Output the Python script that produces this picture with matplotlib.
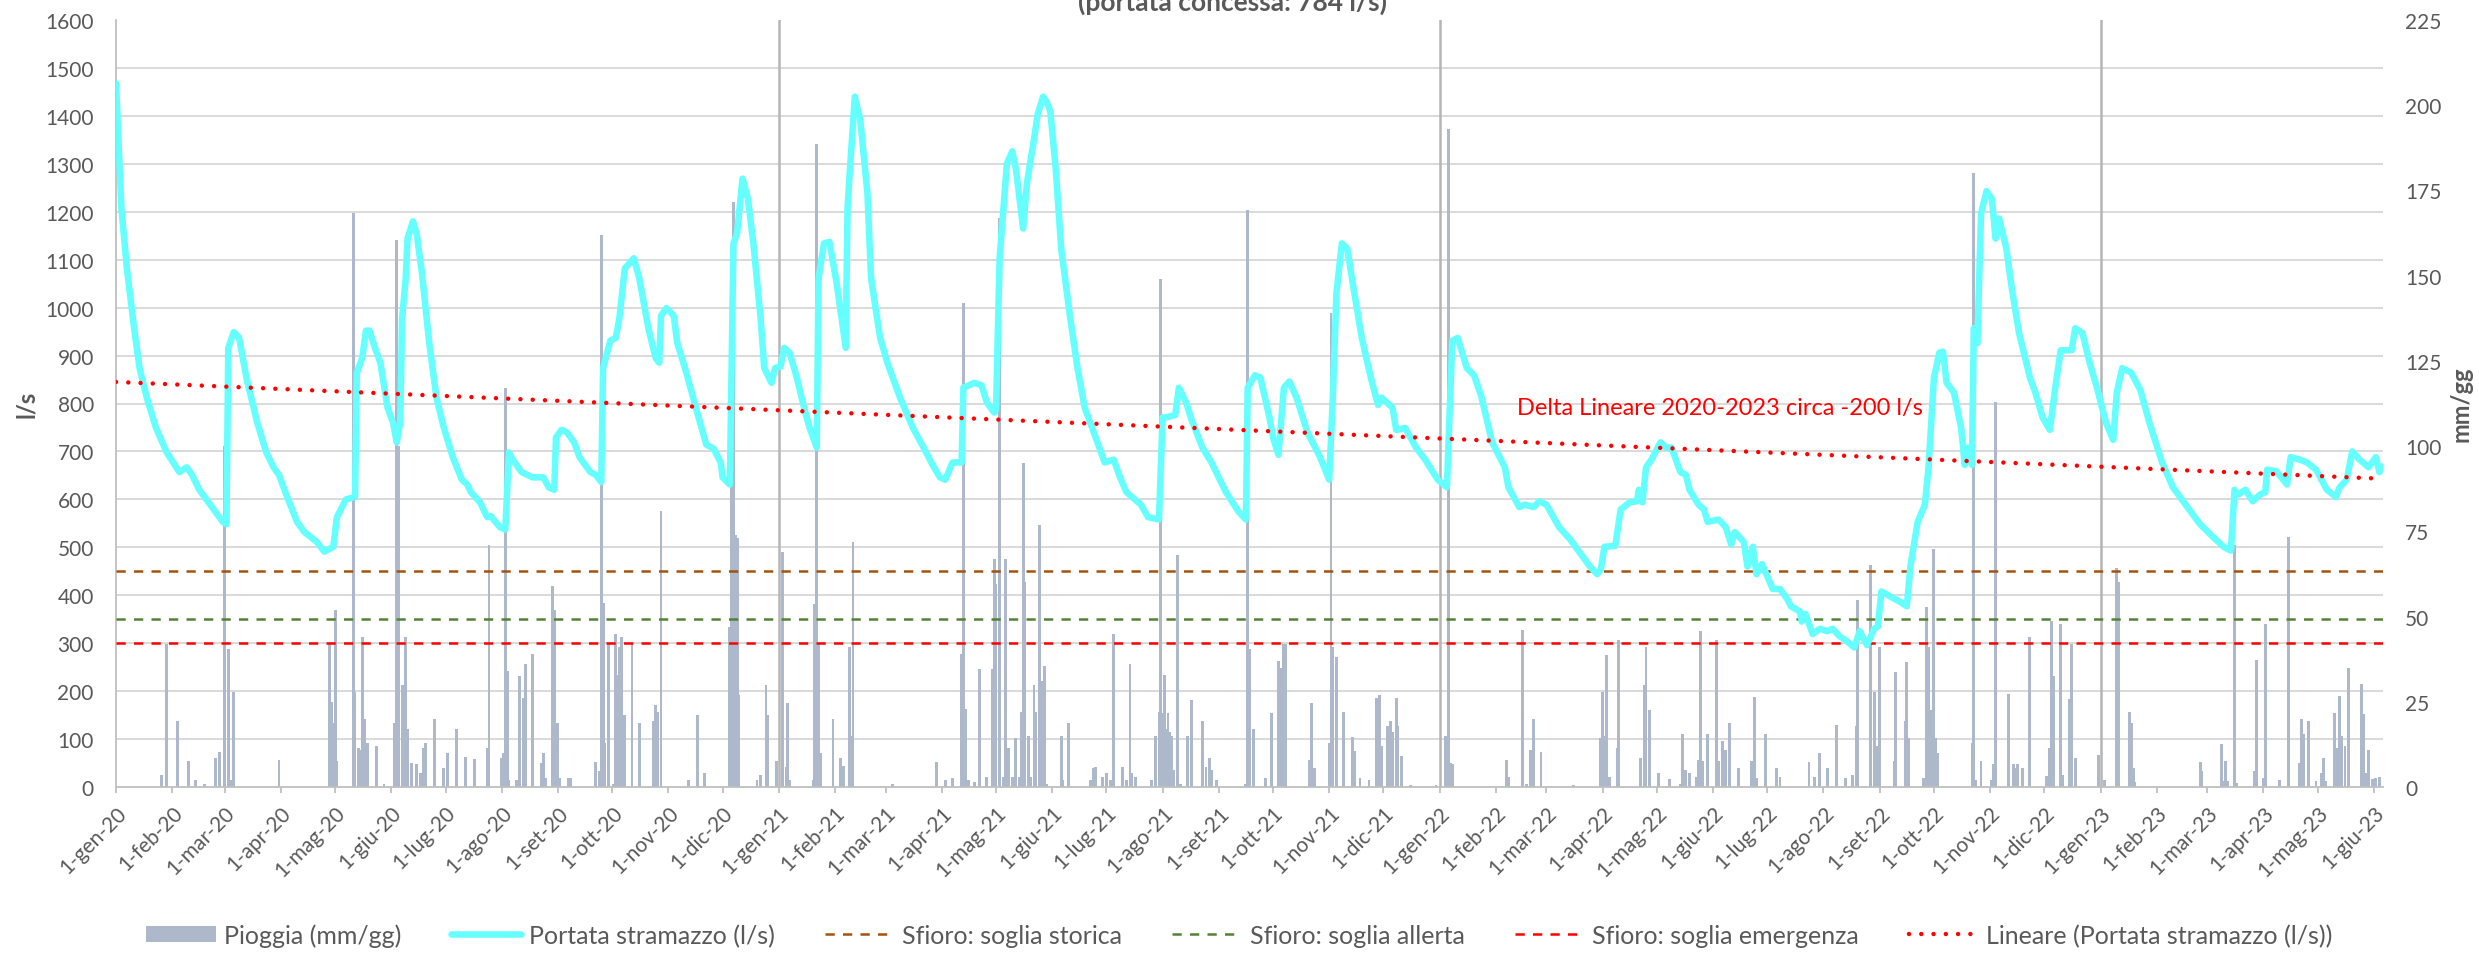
import numpy as np
import matplotlib
matplotlib.use('Agg')
import matplotlib.pyplot as plt
import matplotlib.dates as mdates
from matplotlib.patches import Patch
from matplotlib.lines import Line2D
from matplotlib.ticker import FuncFormatter, MultipleLocator, FixedLocator

plt.rcParams['font.family'] = ['Lato', 'DejaVu Sans']

# ---------------- DATA ----------------
data_inizio = '2020-01-01'
giorni_totali = 1252

# Portata stramazzo (l/s): day offset from 1-gen-20 and value
portata_giorno = [0, 3, 6, 10, 13, 17, 22, 28, 35, 39, 42, 46, 52, 59, 61, 62, 65, 68, 72, 78,
                  83, 87, 90, 94, 100, 104, 111, 115, 120, 122, 127, 132, 133, 136, 138, 140, 143, 146, 150, 153,
                  155, 157, 158, 160, 161, 164, 166, 169, 173, 177, 181, 186, 191, 194, 196, 201, 205, 207, 212, 215,
                  217, 219, 224, 230, 236, 239, 242, 243, 246, 249, 253, 256, 262, 265, 268, 269, 273, 276, 278, 281,
                  286, 289, 294, 298, 300, 301, 304, 308, 310, 315, 321, 326, 330, 334, 335, 339, 341, 343, 346, 349,
                  352, 356, 358, 362, 364, 367, 369, 372, 376, 380, 383, 387, 388, 391, 394, 398, 403, 404, 405, 408,
                  411, 415, 417, 422, 426, 430, 433, 440, 446, 451, 455, 458, 462, 467, 468, 474, 478, 481, 485, 486,
                  488, 492, 495, 497, 501, 503, 507, 509, 512, 514, 516, 519, 522, 527, 531, 535, 540, 546, 551, 554,
                  558, 566, 570, 576, 578, 580, 585, 587, 591, 594, 600, 605, 613, 620, 624, 625, 629, 632, 637, 639,
                  642, 645, 648, 652, 658, 665, 670, 672, 674, 677, 680, 683, 688, 693, 697, 699, 705, 707, 712, 718,
                  723, 730, 735, 738, 741, 746, 750, 754, 760, 767, 769, 775, 778, 783, 786, 790, 797, 803, 808, 814,
                  818, 820, 822, 828, 831, 836, 840, 841, 843, 845, 848, 853, 856, 859, 864, 867, 869, 874, 877, 879,
                  885, 889, 892, 894, 899, 901, 904, 906, 909, 915, 919, 923, 925, 930, 931, 933, 937, 941, 945, 948,
                  952, 956, 960, 963, 967, 971, 973, 975, 980, 985, 989, 991, 995, 999, 1001, 1004, 1007, 1009, 1011, 1015,
                  1019, 1021, 1023, 1025, 1026, 1028, 1030, 1033, 1036, 1038, 1040, 1044, 1047, 1051, 1057, 1060, 1064, 1068, 1071, 1074,
                  1080, 1082, 1086, 1090, 1094, 1099, 1103, 1105, 1108, 1113, 1118, 1123, 1130, 1136, 1144, 1151, 1158, 1164, 1168, 1170,
                  1172, 1176, 1180, 1184, 1187, 1188, 1193, 1199, 1201, 1206, 1210, 1215, 1221, 1226, 1228, 1232, 1235, 1239, 1244, 1248,
                  1250, 1252]
portata_ls = [1468, 1206, 1082, 957, 874, 812, 750, 698, 657, 667, 651, 620, 589, 553, 548, 916, 949, 937, 854, 760,
              698, 667, 651, 610, 553, 532, 511, 491, 501, 563, 600, 605, 864, 895, 952, 952, 916, 885, 791, 760,
              719, 760, 978, 1061, 1144, 1180, 1155, 1071, 926, 812, 750, 688, 641, 631, 615, 594, 563, 565, 542, 537,
              698, 683, 657, 646, 646, 625, 620, 729, 745, 740, 719, 688, 657, 651, 636, 874, 931, 937, 978, 1082,
              1103, 1061, 957, 895, 885, 983, 999, 983, 926, 864, 781, 714, 706, 677, 646, 631, 1134, 1155, 1269, 1227,
              1134, 978, 874, 843, 874, 877, 916, 906, 854, 791, 750, 708, 1061, 1134, 1137, 1051, 916, 1206, 1269, 1440,
              1393, 1238, 1061, 937, 885, 843, 812, 750, 708, 672, 646, 641, 677, 677, 833, 843, 838, 802, 781, 786,
              1103, 1300, 1326, 1289, 1165, 1258, 1352, 1403, 1440, 1429, 1409, 1289, 1123, 978, 874, 791, 740, 677, 683, 651,
              615, 589, 563, 558, 771, 771, 776, 833, 802, 766, 708, 677, 615, 574, 558, 833, 859, 854, 771, 729,
              693, 833, 846, 812, 740, 688, 641, 812, 1030, 1134, 1123, 1051, 937, 854, 797, 812, 791, 745, 749, 708,
              683, 641, 625, 931, 937, 874, 859, 815, 719, 667, 625, 584, 589, 584, 596, 589, 542, 517, 491, 460,
              444, 454, 501, 503, 579, 594, 596, 620, 594, 667, 683, 719, 708, 708, 657, 651, 620, 589, 579, 553,
              558, 542, 506, 532, 511, 460, 501, 444, 465, 413, 413, 392, 377, 366, 345, 361, 319, 330, 325, 330,
              314, 304, 291, 325, 296, 330, 335, 408, 397, 387, 377, 460, 553, 589, 667, 854, 906, 908, 843, 823,
              750, 672, 708, 672, 957, 926, 1196, 1243, 1227, 1144, 1186, 1123, 1040, 947, 854, 823, 771, 745, 833, 911,
              911, 957, 947, 885, 833, 760, 724, 823, 874, 864, 828, 760, 677, 625, 584, 548, 522, 501, 493, 620,
              610, 620, 596, 610, 615, 662, 659, 631, 688, 683, 677, 662, 620, 605, 625, 641, 700, 683, 667, 688,
              657, 669]

# Pioggia (mm/gg): day offset from 1-gen-20 and value
pioggia_giorno = [25, 28, 34, 40, 44, 49, 55, 57, 60, 62, 64, 65, 90, 118, 119, 120, 121, 122, 131, 132,
                  134, 135, 136, 137, 138, 139, 144, 148, 154, 155, 156, 158, 159, 160, 161, 163, 166, 168, 170, 171,
                  176, 181, 183, 188, 193, 198, 205, 206, 213, 214, 215, 216, 217, 221, 223, 225, 226, 230, 235, 236,
                  237, 241, 242, 244, 245, 250, 251, 265, 267, 268, 269, 270, 272, 275, 276, 277, 278, 279, 281, 285,
                  289, 297, 298, 299, 301, 316, 321, 325, 339, 340, 341, 342, 343, 344, 354, 356, 359, 360, 365, 368,
                  370, 371, 372, 385, 386, 387, 388, 389, 396, 400, 402, 405, 406, 407, 429, 453, 458, 462, 467, 468,
                  469, 471, 474, 477, 481, 484, 485, 486, 488, 490, 491, 493, 495, 497, 499, 500, 501, 502, 504, 505,
                  507, 508, 510, 511, 513, 514, 522, 523, 526, 538, 540, 541, 545, 547, 549, 551, 556, 558, 560, 561,
                  563, 572, 574, 576, 577, 578, 579, 580, 581, 582, 583, 584, 586, 588, 592, 594, 600, 602, 604, 605,
                  608, 624, 625, 626, 628, 635, 638, 642, 643, 645, 646, 659, 660, 662, 670, 671, 672, 674, 678, 683,
                  684, 687, 692, 696, 697, 698, 699, 702, 704, 705, 707, 708, 710, 715, 729, 734, 736, 737, 738, 768,
                  769, 777, 779, 781, 783, 787, 805, 820, 821, 822, 823, 825, 829, 830, 842, 844, 845, 847, 852, 858,
                  864, 865, 867, 869, 873, 874, 875, 876, 879, 884, 885, 887, 889, 891, 896, 903, 905, 906, 911, 917,
                  919, 935, 938, 941, 945, 950, 955, 959, 961, 962, 969, 971, 973, 974, 982, 983, 988, 989, 990, 998,
                  1000, 1001, 1002, 1004, 1005, 1006, 1025, 1026, 1027, 1030, 1036, 1037, 1038, 1045, 1048, 1049, 1050, 1053, 1057, 1066,
                  1068, 1069, 1070, 1074, 1075, 1079, 1080, 1082, 1095, 1098, 1105, 1106, 1112, 1113, 1114, 1115, 1151, 1152, 1163, 1164,
                  1165, 1166, 1170, 1171, 1181, 1182, 1186, 1187, 1195, 1200, 1206, 1207, 1208, 1211, 1215, 1218, 1219, 1220, 1225, 1227,
                  1228, 1229, 1231, 1233, 1240, 1241, 1243, 1244, 1246, 1248, 1250]
pioggia_mm = [3.6, 42, 19.4, 7.7, 2.2, 1, 8.5, 10.4, 100, 40.6, 2, 28, 8, 42, 25, 18.7, 52, 7.7, 168.5, 28,
              11.4, 11, 44, 20, 6, 12.8, 12, 1, 18.7, 160.5, 100, 30, 18.7, 44, 17, 7, 6.7, 4, 11.4, 12.8,
              20, 5.5, 10, 17, 8.8, 8.2, 11.4, 71, 8.5, 10, 117, 34, 2, 2, 32.5, 26, 36, 39, 7, 10,
              2.5, 59, 52, 18.7, 2.5, 2.5, 2.6, 7.3, 4.7, 162, 54, 12.8, 42, 1, 45, 33, 41, 44, 21, 42,
              18.7, 19.4, 24, 22, 81, 2, 21, 4, 47, 88, 171.6, 74, 73, 27, 2, 3.4, 30, 21, 7.7, 69,
              6, 24.5, 2, 2, 53.7, 188.6, 42, 10, 20, 8.5, 6.3, 41, 15, 72, 1, 7.3, 2, 2.5, 39, 142,
              23, 2, 1.5, 34.7, 3, 34.7, 67, 59.5, 167, 3, 67, 11.4, 3, 14.3, 3, 22, 95, 60, 15, 3,
              30, 22, 77, 31, 35.5, 1, 15, 2, 18.7, 2, 5.5, 6, 3, 4, 2, 45, 6, 2, 36, 4,
              3, 2, 15, 22, 149, 21.6, 33, 17, 21.6, 16, 15, 5, 68, 1, 15, 25.5, 19.4, 6, 8.5, 5,
              2, 1, 169.4, 40.6, 17, 2.5, 21.6, 37, 35, 42, 42, 8, 24.5, 5.5, 12.8, 139, 41, 38, 22, 14.7,
              10.7, 2.5, 2, 26, 24, 27, 12, 18, 19.4, 16, 26, 18, 9, 0.5, 0.5, 15, 193, 7, 6.7, 8,
              3, 46, 1, 11, 20, 10.4, 0.5, 14.3, 28, 15, 38.7, 3, 11.4, 43, 8.5, 30, 41, 22.6, 4, 2.3,
              1, 15.5, 5, 4, 3, 8, 45.7, 7.7, 15.5, 43, 7.7, 13.6, 11, 18.7, 5.5, 7.7, 26.4, 2.6, 15.5, 5.5,
              3, 7.3, 3, 10, 5.5, 18.2, 2.6, 3.6, 18, 55, 65, 28, 12, 41, 7.7, 33.6, 19.4, 36.6, 14.3, 2.6,
              52.7, 41, 22.6, 69.7, 14.3, 10, 12.8, 180, 2, 7.7, 2, 6.7, 112.8, 27.4, 6.7, 5.5, 6.7, 5.5, 44, 3.3,
              11.4, 48.6, 32.5, 47.9, 3.6, 25.7, 42, 8.5, 9.5, 2, 64.3, 60, 21.9, 18.7, 5.5, 1.6, 7.3, 4.8, 12.5, 1.9,
              7.7, 1.9, 71, 1.2, 4.8, 37.4, 2.6, 47.9, 2.2, 73.4, 7, 20, 15.5, 19.4, 1.9, 4, 8.5, 1.9, 21.6, 11.4,
              26.7, 15, 12, 35, 30.3, 21.3, 4, 11, 2.3, 2.6, 2.9]

# Linear trend of the portata (endpoints, l/s)
trend_giorno = [0, 1252]
trend_ls = [845, 643]

# Overflow thresholds (l/s)
soglie_nome = ['Sfioro: soglia storica', 'Sfioro: soglia allerta', 'Sfioro: soglia emergenza']
soglie_valore = [450, 350, 300]

# Year separators
separatori = ['2021-01-01', '2022-01-01', '2023-01-01']

mesi_it = ['gen', 'feb', 'mar', 'apr', 'mag', 'giu', 'lug', 'ago', 'set', 'ott', 'nov', 'dic']

titolo = '(portata concessa: 784 l/s)'
nota_trend = 'Delta Lineare 2020-2023 circa -200 l/s'
nota_giorno = 774
nota_ls = 779

# ---------------- STYLE ----------------
C_TEXT = '#595959'
C_GRID = '#D9D9D9'
C_AXIS = '#BFBFBF'
C_BAR = '#ADB9CA'
C_LINE = '#66FFFF'
C_SOGLIE = ['#A5520E', '#548235', '#FF0000']
C_TREND = '#FF0000'
FS = 15
FS_LEG = 18

W, H = 2479, 954
fig = plt.figure(figsize=(W / 100, H / 100), dpi=100)
L, R, T, B = 116, 2383, 21, 788
ax2 = fig.add_axes([L / W, 1 - B / H, (R - L) / W, (B - T) / H])
ax = ax2.twinx()
ax.yaxis.set_label_position('left')
ax.yaxis.tick_left()
ax2.yaxis.set_label_position('right')
ax2.yaxis.tick_right()

t0 = np.datetime64(data_inizio)
def to_num(days):
    return mdates.date2num(t0 + np.array(days, dtype='timedelta64[D]'))

x_port = to_num(portata_giorno)
x_rain = to_num(pioggia_giorno)
x_trend = to_num(trend_giorno)
x0, x1 = to_num([0, giorni_totali])

# rain bars (secondary axis, behind)
ax2.bar(x_rain, pioggia_mm, width=1.6, color=C_BAR, linewidth=0, zorder=2)
for s in separatori:
    ax2.axvline(mdates.date2num(np.datetime64(s)), color='#B5B5B5', lw=1.8, zorder=2.5)
ax2.set_ylim(0, 225)
ax2.yaxis.set_major_locator(MultipleLocator(25))
# gridlines for primary scale (drawn on the background axis)
ax2.yaxis.set_minor_locator(FixedLocator(np.arange(0, 1601, 100) * 225 / 1600))
ax2.yaxis.grid(True, which='minor', color=C_GRID, lw=1.4, zorder=0)
ax2.set_axisbelow(True)
ax2.tick_params(axis='y', which='both', length=0, pad=16, labelsize=FS, labelcolor=C_TEXT)

# primary axis lines
ax.set_ylim(0, 1600)
ax.yaxis.set_major_locator(MultipleLocator(100))
ax.tick_params(axis='y', length=0, pad=16, labelsize=FS, labelcolor=C_TEXT)
for nome, val, col in zip(soglie_nome, soglie_valore, C_SOGLIE):
    ax.plot([x0, x1], [val, val], color=col, lw=1.8, dashes=(3.7, 3.3), zorder=3)
ax.plot(x_port, portata_ls, color=C_LINE, lw=4.7, solid_joinstyle='round', solid_capstyle='round', zorder=4)
ax.plot(x_trend, trend_ls, color=C_TREND, lw=3.2, linestyle=(0, (0.01, 2.75)),
        dash_capstyle='round', zorder=5)
ax.text(to_num([nota_giorno])[0], nota_ls, nota_trend, color='#FF0000', fontsize=17, va='baseline', ha='left', zorder=6)

for a in (ax, ax2):
    a.set_xlim(x0, x1)
    for sp in a.spines.values():
        sp.set_visible(False)
ax2.spines['left'].set_visible(True)
ax2.spines['left'].set_color(C_AXIS)
ax2.spines['left'].set_linewidth(1.3)
ax2.spines['bottom'].set_visible(True)
ax2.spines['bottom'].set_color(C_AXIS)
ax2.spines['bottom'].set_linewidth(1.3)

# x axis
ax2.xaxis.set_major_locator(mdates.MonthLocator(bymonthday=1))
def fmt(v, pos):
    d = mdates.num2date(v)
    return f"{d.day}-{mesi_it[d.month - 1]}-{d.year % 100:02d}"
ax2.xaxis.set_major_formatter(FuncFormatter(fmt))
ax2.tick_params(axis='x', length=4, width=1.3, color=C_AXIS, pad=7, labelsize=15, labelcolor=C_TEXT)
for lab in ax2.get_xticklabels():
    lab.set_rotation(45)
    lab.set_ha('right')
    lab.set_va('top')
    lab.set_rotation_mode('anchor')
ax.tick_params(axis='x', bottom=False, labelbottom=False, top=False, labeltop=False)

# axis labels
fig.text(27 / W, 1 - 404 / H, 'l/s', rotation=90, ha='center', va='center', fontsize=17,
         fontweight='bold', color=C_TEXT)
fig.text(2461 / W, 1 - 404 / H, 'mm/gg', rotation=90, ha='center', va='center', fontsize=17,
         fontweight='bold', color=C_TEXT)

# title (partially visible at the top, as in the source)
fig.text(1233 / W, 1 - 11 / H, titolo, ha='center', va='baseline', fontsize=19,
         fontweight='bold', color=C_TEXT)

# legend
handles = [Patch(facecolor=C_BAR, edgecolor='none'),
           Line2D([], [], color=C_LINE, lw=4.7, solid_capstyle='round')]
for col in C_SOGLIE:
    handles.append(Line2D([], [], color=col, lw=1.8, dashes=(3.7, 3.3)))
handles.append(Line2D([], [], color=C_TREND, lw=3.2, linestyle=(0, (0.01, 2.75)), dash_capstyle='round'))
labels = ['Pioggia (mm/gg)', 'Portata stramazzo (l/s)'] + soglie_nome + ['Lineare (Portata stramazzo (l/s))']
leg = fig.legend(handles, labels, loc='lower center', bbox_to_anchor=(0.5, -0.004), ncol=6, frameon=False,
                 fontsize=FS_LEG, handlelength=2.8, handleheight=0.65, columnspacing=2.0, handletextpad=0.3,
                 borderaxespad=0.0)
for t in leg.get_texts():
    t.set_color(C_TEXT)

fig.savefig('out.png', dpi=100)
